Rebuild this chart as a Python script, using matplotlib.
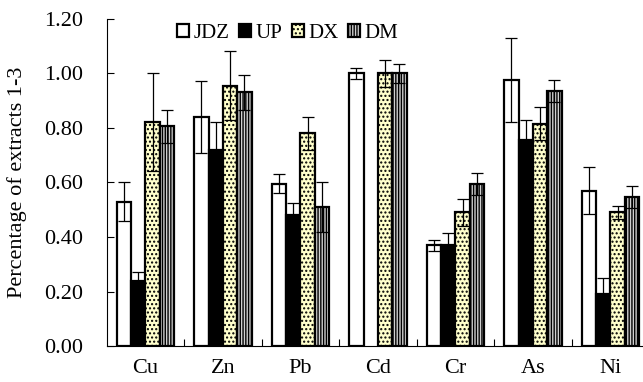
import numpy as np
import matplotlib
matplotlib.use("Agg")
import matplotlib.pyplot as plt

plt.rcParams['font.family'] = ['Liberation Serif', 'DejaVu Serif']
plt.rcParams['hatch.linewidth'] = 1.0
plt.rcParams['hatch.color'] = 'black'

elements = ['Cu', 'Zn', 'Pb', 'Cd', 'Cr', 'As', 'Ni']
series = ['JDZ', 'UP', 'DX', 'DM']

# mean values (Cd has no UP bar)
jdz = [0.53, 0.84, 0.595, 1.00, 0.37, 0.975, 0.57]
up = [0.24, 0.72, 0.48, np.nan, 0.37, 0.755, 0.19]
dx = [0.82, 0.955, 0.78, 1.00, 0.49, 0.815, 0.49]
dm = [0.805, 0.93, 0.51, 1.00, 0.595, 0.935, 0.545]

# error bar half-lengths
jdz_err = [0.07, 0.133, 0.035, 0.02, 0.02, 0.155, 0.085]
up_err = [0.03, 0.10, 0.045, np.nan, 0.045, 0.075, 0.06]
dx_err = [0.18, 0.125, 0.06, 0.05, 0.05, 0.06, 0.025]
dm_err = [0.06, 0.065, 0.09, 0.035, 0.04, 0.04, 0.04]

values = [jdz, up, dx, dm]
errors = [jdz_err, up_err, dx_err, dm_err]
faces = ['white', 'black', '#ffffcc', '#d0d0d0']
hatches = [None, None, '....', '||||||']

fig = plt.figure(figsize=(6.43, 3.82), dpi=100)
ax = fig.add_axes([0.166, 0.094, 0.834, 0.857])

x = np.arange(len(elements))
width = 0.185
offsets = (np.arange(4) - 1.5) * width

for i in range(4):
    ax.bar(x + offsets[i], values[i], width, color=faces[i],
           edgecolor='black', linewidth=1.6, hatch=hatches[i],
           label=series[i], zorder=2)
    ax.errorbar(x + offsets[i], values[i], yerr=errors[i], fmt='none',
                ecolor='black', elinewidth=0.9, capsize=4, capthick=0.9,
                zorder=3)

ax.set_xlim(-0.5, 6.42)
ax.set_ylim(0, 1.2)
ax.set_yticks(np.arange(0, 1.21, 0.2))
ax.set_yticklabels(['%.2f' % v for v in np.arange(0, 1.21, 0.2)], fontsize=16)
ax.set_xticks(x)
ax.set_xticklabels(elements, fontsize=16)
ax.set_xticks(np.arange(0.5, 6.5, 1), minor=True)
ax.tick_params(axis='x', which='major', length=0, pad=9)
ax.tick_params(axis='x', which='minor', direction='in', length=5, width=0.8)
ax.tick_params(axis='y', direction='in', length=5, width=0.8, pad=17)

ax.spines['top'].set_visible(False)
ax.spines['right'].set_visible(False)
ax.spines['left'].set_linewidth(0.8)
ax.spines['bottom'].set_linewidth(0.8)

ax.set_ylabel('Percentage of extracts 1-3', fontsize=16, labelpad=12)

ax.legend(loc='upper left', bbox_to_anchor=(0.115, 1.01), ncol=4,
          frameon=False, fontsize=15, handlelength=0.6, handleheight=0.6,
          handletextpad=0.2, columnspacing=0.45, borderaxespad=0)

fig.savefig('out.png', dpi=100)
